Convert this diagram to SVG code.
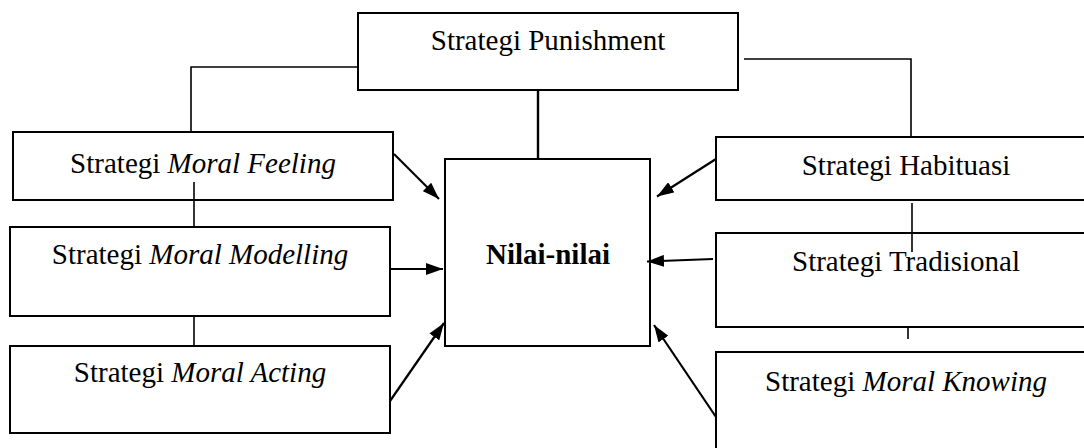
<svg xmlns="http://www.w3.org/2000/svg" width="1084" height="448" viewBox="0 0 1084 448">
<style>
.box{fill:#fff;stroke:#000;stroke-width:2}
.t{font-family:"Liberation Serif","Times New Roman",serif;font-size:29px;fill:#000;text-anchor:middle}
.b{font-weight:bold}
.i{font-style:italic}
.ln{fill:none;stroke:#000;stroke-width:1.6}
.ar{fill:none;stroke:#000;stroke-width:2.2;marker-end:url(#ah)}
</style>
<defs>
<marker id="ah" viewBox="0 0 17 12" refX="17" refY="6" markerWidth="17" markerHeight="12" markerUnits="userSpaceOnUse" orient="auto">
<path d="M0,0 L17,6 L0,12 z" fill="#000"/>
</marker>
</defs>
<rect width="1084" height="448" fill="#fff"/>
<g id="punishment">
<rect class="box" x="358" y="13" width="380" height="77"/>
<text class="t" x="548" y="50">Strategi Punishment</text>
</g>
<g id="moral-feeling">
<rect class="box" x="13" y="132" width="380" height="68"/>
<text class="t" x="203" y="173">Strategi <tspan class="i">Moral Feeling</tspan></text>
</g>
<g id="moral-modelling">
<rect class="box" x="10" y="227" width="380" height="89"/>
<text class="t" x="200" y="264">Strategi <tspan class="i">Moral Modelling</tspan></text>
</g>
<g id="moral-acting">
<rect class="box" x="10" y="346" width="380" height="87"/>
<text class="t" x="200" y="382">Strategi <tspan class="i">Moral Acting</tspan></text>
</g>
<g id="nilai">
<rect class="box" x="445" y="159" width="205" height="187"/>
<text class="t b" x="548" y="264">Nilai-nilai</text>
</g>
<g id="habituasi">
<rect class="box" x="716" y="137" width="390" height="63"/>
<text class="t" x="906" y="175">Strategi Habituasi</text>
</g>
<g id="tradisional">
<rect class="box" x="716" y="233" width="390" height="94"/>
<text class="t" x="906" y="271">Strategi Tradisional</text>
</g>
<g id="moral-knowing">
<rect class="box" x="716" y="352" width="390" height="110"/>
<text class="t" x="906" y="391">Strategi <tspan class="i">Moral Knowing</tspan></text>
</g>
<g id="connectors">
<polyline class="ln" points="358,67 191,67 191,132"/>
<polyline class="ln" points="744,59 911,59 911,137"/>
<line class="ln" x1="538" y1="90" x2="538" y2="159" style="stroke-width:2.4"/>
<line class="ln" x1="194" y1="182" x2="194" y2="227"/>
<line class="ln" x1="194" y1="316" x2="194" y2="346"/>
<line class="ln" x1="912" y1="203" x2="912" y2="252"/>
<line class="ln" x1="908" y1="327" x2="908" y2="339"/>
<line class="ar" x1="394" y1="154" x2="439" y2="199"/>
<line class="ar" x1="390" y1="269" x2="443" y2="269"/>
<line class="ar" x1="390" y1="401" x2="444" y2="323"/>
<line class="ar" x1="716" y1="159" x2="657" y2="196.5"/>
<line class="ar" x1="713" y1="259" x2="647" y2="261.5"/>
<line class="ar" x1="716" y1="417" x2="654" y2="325"/>
</g>
</svg>
